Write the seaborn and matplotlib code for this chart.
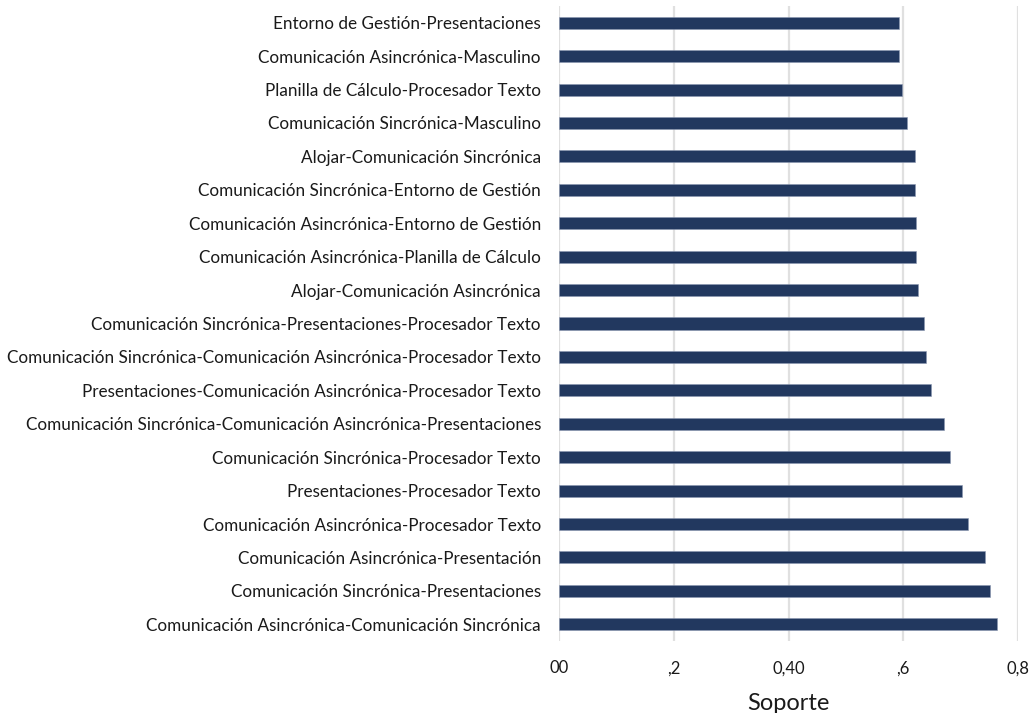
import matplotlib
matplotlib.use("Agg")
import matplotlib.pyplot as plt
import seaborn as sns
import pandas as pd

# Datos (de arriba hacia abajo)
reglas = [
    "Entorno de Gestión-Presentaciones",
    "Comunicación Asincrónica-Masculino",
    "Planilla de Cálculo-Procesador Texto",
    "Comunicación Sincrónica-Masculino",
    "Alojar-Comunicación Sincrónica",
    "Comunicación Sincrónica-Entorno de Gestión",
    "Comunicación Asincrónica-Entorno de Gestión",
    "Comunicación Asincrónica-Planilla de Cálculo",
    "Alojar-Comunicación Asincrónica",
    "Comunicación Sincrónica-Presentaciones-Procesador Texto",
    "Comunicación Sincrónica-Comunicación Asincrónica-Procesador Texto",
    "Presentaciones-Comunicación Asincrónica-Procesador Texto",
    "Comunicación Sincrónica-Comunicación Asincrónica-Presentaciones",
    "Comunicación Sincrónica-Procesador Texto",
    "Presentaciones-Procesador Texto",
    "Comunicación Asincrónica-Procesador Texto",
    "Comunicación Asincrónica-Presentación",
    "Comunicación Sincrónica-Presentaciones",
    "Comunicación Asincrónica-Comunicación Sincrónica",
]
soporte = [0.593, 0.593, 0.597, 0.606, 0.620, 0.620, 0.6225, 0.6225, 0.6255,
           0.636, 0.639, 0.649, 0.671, 0.681, 0.703, 0.713, 0.742, 0.752, 0.764]
ticks = [0.0, 0.2, 0.4, 0.6, 0.8]
tick_labels = ["00", ",2", "0,40", ",6", "0,8"]

df = pd.DataFrame({"Regla": reglas, "Soporte": soporte})

sns.set_style("white")
plt.rcParams["font.family"] = ["Lato", "DejaVu Sans"]

fig = plt.figure(figsize=(10.33, 7.13), dpi=100)
ax = fig.add_axes([559 / 1033, 1 - 641 / 713, (1018 - 559) / 1033, (641 - 6) / 713])

sns.barplot(data=df, x="Soporte", y="Regla", color="#22385f", width=0.36,
            edgecolor="#8a97b0", linewidth=0.4, ax=ax, saturation=1)

ax.set_xlim(0, 0.8)
ax.set_xticks(ticks)
ax.set_xticklabels(tick_labels, fontsize=12, color="#1a1a1a")
ax.tick_params(axis="x", length=0, pad=14)
ax.tick_params(axis="y", length=0, pad=13, labelsize=12.3, labelcolor="#1a1a1a")
ax.grid(axis="x", color="#e0e0e0", linewidth=1.6)
ax.set_axisbelow(True)
for s in ax.spines.values():
    s.set_visible(False)
ax.set_ylabel("")
ax.set_xlabel("Soporte", fontsize=17, color="#1a1a1a", labelpad=12)

fig.savefig("out.png", dpi=100)
